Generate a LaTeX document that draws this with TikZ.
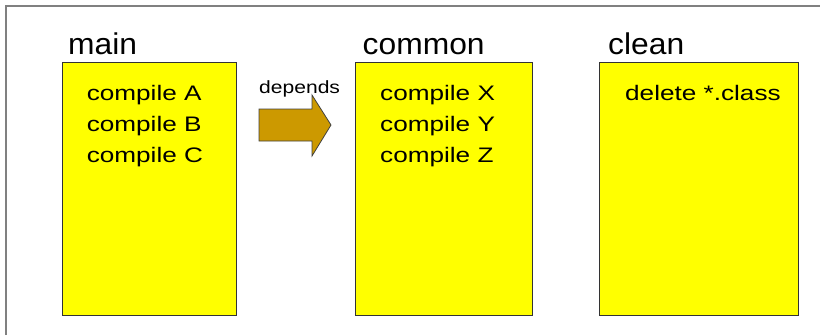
\documentclass[tikz,border=0pt]{standalone}
\usepackage{fontspec}
\setmainfont{Liberation Sans}
\newfontfamily\titlefont[FakeStretch=1.06]{Liberation Sans}
\newfontfamily\bodyfont[FakeStretch=1.245]{Liberation Sans}
\newfontfamily\smallfont[FakeStretch=1.19]{Liberation Sans}
\usetikzlibrary{shadows,calc}
\definecolor{taskyellow}{HTML}{FFFF00}
\definecolor{arrowgold}{HTML}{CC9900}
\definecolor{framegray}{HTML}{808080}
\tikzset{
  frame/.style={draw=framegray, line width=1.3pt},
  target/.style={draw=black!80, fill=taskyellow, line width=0.9pt,
    rectangle, inner sep=0pt, outer sep=0pt, anchor=north west,
    drop shadow={shadow xshift=1.2pt, shadow yshift=-1.2pt, opacity=1, fill=black!55}},
  title/.style={anchor=base west, inner sep=0pt, font=\titlefont\fontsize{30}{36}\selectfont},
  steptext/.style={anchor=base west, inner sep=0pt, font=\bodyfont\fontsize{21}{25}\selectfont},
  label/.style={anchor=base west, inner sep=0pt, font=\smallfont\fontsize{17.7}{21}\selectfont},
  deparrow/.style={draw=black!75, fill=arrowgold, line width=0.8pt, line join=miter}
}
\begin{document}
\begin{tikzpicture}[x=1pt,y=-1pt]
\useasboundingbox (0,0) rectangle (820,335);
% outer frame, open to the right and bottom
\draw[frame] (6,335) -- (6,6) -- (820,6);

% target boxes
\node[target, minimum width=174pt, minimum height=253pt] (main) at (62,62) {};
\node[target, minimum width=177pt, minimum height=253pt] (common) at (355,62) {};
\node[target, minimum width=199pt, minimum height=253pt] (clean) at (599,62) {};

% target names
\node[title] (tmain) at (68,54) {main};
\node[title] (tcommon) at (362.5,54) {common};
\node[title] (tclean) at (608,54) {clean};

% tasks of each target
\node[steptext] (ma) at (86.6,100) {compile A};
\node[steptext] (mb) at (86.6,131) {compile B};
\node[steptext] (mc) at (86.6,162) {compile C};
\node[steptext] (cx) at (380,100) {compile X};
\node[steptext] (cy) at (380,131) {compile Y};
\node[steptext] (cz) at (380,162) {compile Z};
\node[steptext] (cl) at (625,100) {delete *.class};

% dependency arrow between main and common (ds = middle of its tail)
\coordinate (ds) at (259,125);
\draw[deparrow] ($(ds)+(0,-16)$) -- ($(ds)+(53,-16)$) -- ($(ds)+(53,-30)$)
  -- ($(ds)+(72,0)$) -- ($(ds)+(53,31)$) -- ($(ds)+(53,16)$)
  -- ($(ds)+(0,16)$) -- cycle;
\node[label] (dep) at (259,93) {depends};
\end{tikzpicture}
\end{document}
